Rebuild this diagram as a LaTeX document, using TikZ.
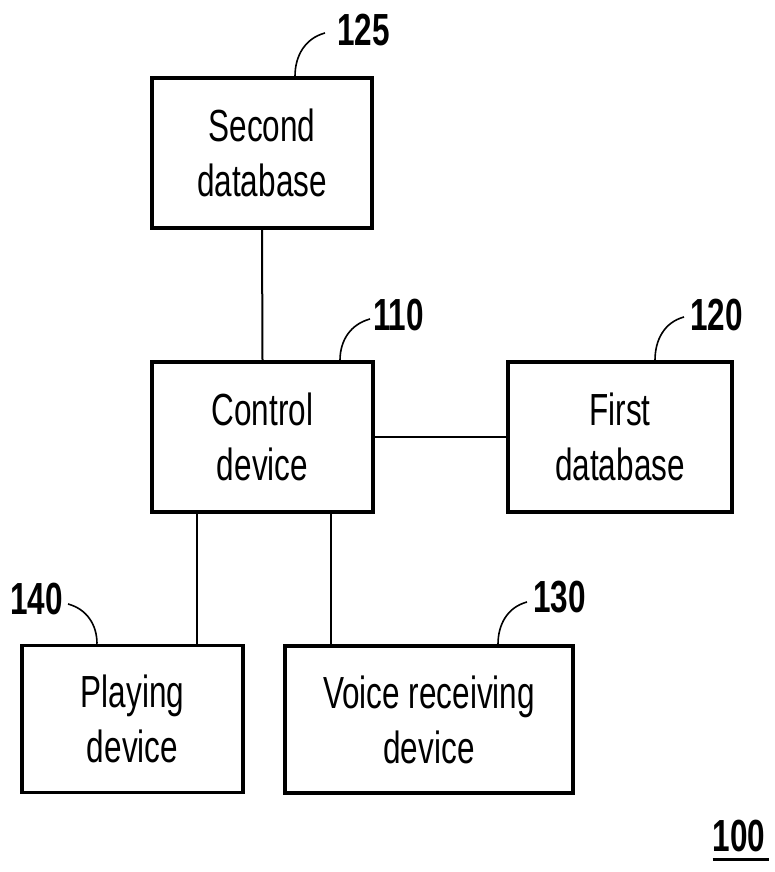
\documentclass[tikz,border=0pt]{standalone}
\usepackage{fontspec}
\newfontfamily\blockfont[FakeStretch=0.7]{Liberation Sans}
\tikzset{
	block/.style = {draw, line width = 3.5pt, align = center, inner sep = 0pt,
		font = \blockfont\fontsize{45}{55}\selectfont},
	refnum/.style = {inner sep = 0pt, font = \blockfont\bfseries\fontsize{45}{45}\selectfont},
	link/.style = {line width = 2pt},
	leader/.style = {line width = 1.6pt}
}
\begin{document}
\begin{tikzpicture}[x = 1pt, y = 1pt]

			\useasboundingbox (0,0) rectangle (774,-872);

			\node[block, minimum width = 220pt, minimum height = 150pt] (second) at (262,-153) {Second\\database};
			\node[block, minimum width = 221pt, minimum height = 150pt] (control) at (262.5,-437) {Control\\device};
			\node[block, minimum width = 224pt, minimum height = 150pt] (first) at (620,-437) {First\\database};
			\node[block, minimum width = 221pt, minimum height = 147pt] (playing) at (132.5,-719) {Playing\\device};
			\node[block, minimum width = 288pt, minimum height = 147pt] (voice) at (429,-719.5) {Voice receiving\\device};

			\draw[link] (second.south) -- (control.north);
			\draw[link] (control.east) -- (first.west);
			\draw[link] ([xshift = -65.5pt]control.south) -- ([xshift = -65.5pt]control.south |- playing.north);
			\draw[link] ([xshift = 68.5pt]control.south) -- ([xshift = 68.5pt]control.south |- voice.north);

			\node[refnum, anchor = west] (n125) at (337,-30) {125};
			\node[refnum, anchor = west] (n110) at (373,-315) {110};
			\node[refnum, anchor = west] (n120) at (690,-315) {120};
			\node[refnum, anchor = east] (n140) at (63,-599) {140};
			\node[refnum, anchor = west] (n130) at (533,-597) {130};
			\node[refnum] (n100) at (739,-836) {100};

			\draw[leader] ([xshift = 33pt]second.north) to [out = 90, in = 195] ([xshift = -12pt, yshift = -3pt]n125.west);
			\draw[leader] ([xshift = 77.5pt]control.north) to [out = 90, in = 195] ([xshift = -3pt, yshift = -4pt]n110.west);
			\draw[leader] ([xshift = 35pt]first.north) to [out = 90, in = 195] ([xshift = -6pt, yshift = -2pt]n120.west);
			\draw[leader] ([xshift = -35.5pt]playing.north) to [out = 90, in = -15] ([xshift = 5pt, yshift = -5pt]n140.east);
			\draw[leader] ([xshift = 69pt]voice.north) to [out = 90, in = 195] ([xshift = -6pt, yshift = -5pt]n130.west);
			\draw[line width = 3pt] ([yshift = -7pt]n100.south west) -- ([xshift = 4pt, yshift = -7pt]n100.south east);
		\end{tikzpicture}
\end{document}
